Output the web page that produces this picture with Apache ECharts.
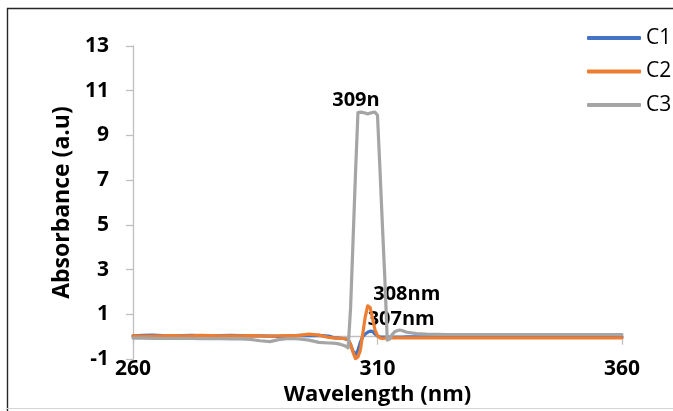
<!DOCTYPE html>
<html>
<head>
<meta charset="utf-8">
<title>Absorbance spectra C1-C3</title>
<script src="https://cdn.jsdelivr.net/npm/echarts@6/dist/echarts.min.js"></script>
<style>
  html, body { margin: 0; padding: 0; background: #ffffff; }
  #chart { width: 673px; height: 411px; }
</style>
</head>
<body>
<div id="chart"></div>
<script>
// Wavelength grid (nm): coarse on the flanks, 0.5 nm through the band at ~305-313 nm
const wavelengths = [
  260, 262, 264, 266, 268, 270, 272, 274, 276, 278, 280, 282, 284, 286, 288, 290, 292, 294, 296, 298, 300,
  301, 301.5, 302, 302.5, 303, 303.5, 304, 304.5, 305, 305.5, 306, 306.5, 307, 307.5, 308, 308.5,
  309, 309.5, 310, 310.5, 311, 311.5, 312, 312.5, 313, 313.5, 314, 314.5, 315,
  316, 318, 320, 322, 324, 326, 328, 330, 332, 334, 336, 338, 340, 342, 344, 346, 348, 350, 352, 354, 356, 358, 360
];

// Absorbance (a.u) for each sample
const c1Values = [
  0.04, 0.06, 0.07, 0.05, 0.04, 0.05, 0.06, 0.05, 0.04, 0.05, 0.06, 0.05, 0.04, 0.04, 0.03, 0.02, 0.04, 0.06, 0.05, 0.06, 0.03,
  -0.04, -0.05, -0.06, -0.07, -0.08, -0.1, -0.15, -0.35, -0.65, -0.8, -0.6, -0.25, 0.02, 0.12, 0.2, 0.25,
  0.24, 0.12, 0.03, 0.0, -0.02, -0.02, -0.02, -0.02, -0.02, -0.02, -0.02, -0.02, -0.02,
  -0.01, -0.01, -0.01, -0.01, -0.01, -0.01, -0.01, -0.01, -0.01, -0.01, -0.01, -0.01, -0.01, -0.01, -0.01, -0.01, -0.01, -0.01, -0.01, -0.01, -0.01, -0.01, -0.01
];
const c2Values = [
  0.04, 0.03, 0.03, 0.04, 0.05, 0.04, 0.04, 0.06, 0.05, 0.04, 0.04, 0.04, 0.05, 0.04, 0.03, 0.04, 0.05, 0.06, 0.12, 0.07, -0.03,
  -0.05, -0.06, -0.07, -0.08, -0.08, -0.1, -0.12, -0.35, -0.7, -0.98, -0.9, -0.6, 0.15, 0.9, 1.38, 1.3,
  0.8, 0.3, 0.05, -0.05, -0.08, -0.06, -0.05, -0.05, -0.05, -0.05, -0.05, -0.05, -0.05,
  -0.05, -0.05, -0.05, -0.05, -0.05, -0.05, -0.05, -0.05, -0.05, -0.05, -0.05, -0.05, -0.05, -0.05, -0.05, -0.05, -0.05, -0.05, -0.05, -0.05, -0.05, -0.05, -0.05
];
const c3Values = [
  -0.06, -0.06, -0.07, -0.08, -0.07, -0.08, -0.08, -0.09, -0.08, -0.09, -0.1, -0.1, -0.12, -0.18, -0.22, -0.12, -0.08, -0.1, -0.15, -0.25, -0.28,
  -0.29, -0.3, -0.32, -0.35, -0.38, -0.42, -0.5, 1.3, 4.3, 7.3, 10.02, 10.04, 10.03, 10.0, 9.96, 10.0,
  10.03, 10.04, 9.9, 7.5, 5.0, 2.6, -0.15, -0.1, 0.1, 0.22, 0.27, 0.3, 0.28,
  0.2, 0.14, 0.12, 0.11, 0.1, 0.1, 0.1, 0.1, 0.1, 0.1, 0.1, 0.1, 0.1, 0.1, 0.1, 0.1, 0.1, 0.1, 0.1, 0.1, 0.1, 0.1, 0.1
];

const seriesNames = ['C1', 'C2', 'C3'];
const seriesColors = ['#4472C4', '#ED7D31', '#A5A5A5'];

// Peak annotations: series, wavelength of the annotated point, text
const peakLabels = [
  { series: 'C3', wl: 306, text: '309n' },
  { series: 'C2', wl: 308, text: '308nm' },
  { series: 'C1', wl: 308.5, text: '307nm' }
];

// Y ticks -1 … 13 every 2, X ticks 260 / 310 / 360
const yMin = -1, yMax = 13, yStep = 2;
const xMin = 260, xMax = 360, xStep = 50;

const FONT = '"Open Sans", "Noto Sans", sans-serif';

const labelPlacement = {
  C3: { position: 'top', distance: 2, offset: [-2, 0] },
  C2: { position: 'right', distance: 5, offset: [0, -12] },
  C1: { position: 'right', distance: 0, offset: [-3, -12] }
};

function buildData(name, values) {
  return wavelengths.map((wl, i) => {
    const ann = peakLabels.find(p => p.series === name && p.wl === wl);
    if (!ann) return [wl, values[i]];
    const place = labelPlacement[name];
    return {
      value: [wl, values[i]],
      symbol: 'circle',
      symbolSize: 1,
      label: {
        show: true,
        formatter: ann.text,
        position: place.position,
        distance: place.distance,
        offset: place.offset,
        fontFamily: FONT,
        fontWeight: 'bold',
        fontSize: 20,
        color: '#000000'
      }
    };
  });
}

const valueSets = [c1Values, c2Values, c3Values];

const series = seriesNames.map((name, k) => ({
  name: name,
  type: 'line',
  data: buildData(name, valueSets[k]),
  symbol: 'none',
  showSymbol: true,
  smooth: false,
  clip: false,
  lineStyle: { width: 3.2, color: seriesColors[k], cap: 'round', join: 'round' },
  itemStyle: { color: seriesColors[k] },
  emphasis: { disabled: true },
  z: 2 + k
}));

const axisGray = '#bfbfbf';

const option = {
  animation: false,
  backgroundColor: '#ffffff',
  grid: { left: 133, top: 46, width: 489, height: 314, containLabel: false },
  legend: {
    orient: 'vertical',
    left: 582,
    top: 22,
    itemWidth: 54,
    itemHeight: 4,
    itemGap: 11.5,
    icon: 'roundRect',
    data: seriesNames,
    textStyle: { fontFamily: FONT, fontSize: 21, color: '#000000', lineHeight: 22 }
  },
  xAxis: [
    {
      // axis line through y = 0 with its ticks
      type: 'value',
      min: xMin, max: xMax, interval: xStep,
      axisLine: { show: true, onZero: true, lineStyle: { color: axisGray, width: 1.3 } },
      axisTick: { show: true, length: 8, lineStyle: { color: axisGray, width: 1.3 } },
      axisLabel: { show: false },
      splitLine: { show: false }
    },
    {
      // tick labels and title along the bottom of the plot
      type: 'value',
      position: 'bottom',
      min: xMin, max: xMax, interval: xStep,
      axisLine: { show: false, onZero: false },
      axisTick: { show: false },
      splitLine: { show: false },
      axisLabel: { margin: -1, fontFamily: FONT, fontWeight: 'bold', fontSize: 21, color: '#000000' },
      name: 'Wavelength (nm)',
      nameLocation: 'middle',
      nameGap: 14,
      nameTextStyle: { fontFamily: FONT, fontWeight: 'bold', fontSize: 22, color: '#000000' }
    }
  ],
  yAxis: {
    type: 'value',
    min: yMin, max: yMax, interval: yStep,
    axisLine: { show: true, onZero: false, lineStyle: { color: axisGray, width: 1.3 } },
    axisTick: { show: true, length: 7, lineStyle: { color: axisGray, width: 1.3 } },
    splitLine: { show: false },
    axisLabel: { margin: 24, fontFamily: FONT, fontWeight: 'bold', fontSize: 21, color: '#000000' },
    name: 'Absorbance (a.u)',
    nameLocation: 'middle',
    nameGap: 59,
    nameTextStyle: { fontFamily: FONT, fontWeight: 'bold', fontSize: 23, color: '#000000' }
  },
  graphic: [
    { type: 'line', silent: true, shape: { x1: 7.5, y1: 8, x2: 7.5, y2: 411 }, style: { stroke: '#262626', lineWidth: 1.4 } },
    { type: 'line', silent: true, shape: { x1: 7, y1: 8.5, x2: 673, y2: 8.5 }, style: { stroke: '#262626', lineWidth: 1.4 } },
    { type: 'line', silent: true, shape: { x1: 7, y1: 408.5, x2: 673, y2: 408.5 }, style: { stroke: '#d4d4d4', lineWidth: 1 } }
  ],
  series: series
};

const chart = echarts.init(document.getElementById('chart'), null, { renderer: 'canvas' });
chart.setOption(option);
</script>
</body>
</html>
